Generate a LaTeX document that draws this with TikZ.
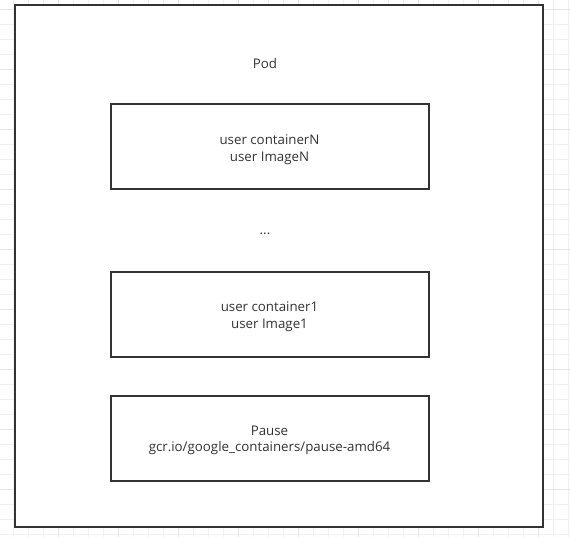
\documentclass[tikz,border=0pt]{standalone}
\usepackage{fontspec}
\setmainfont{Open Sans}
\begin{document}
\begin{tikzpicture}[x=1pt,y=-1pt,
  box/.style={draw=black!80,line width=2pt,fill=white},
  lbl/.style={text=black!80,font=\fontsize{13.3}{16.5}\selectfont,align=center,inner sep=0pt}]
\useasboundingbox (0,0) rectangle (570,537);
% grid
\foreach \i in {0,...,37} {
  \pgfmathsetmacro{\gx}{13+15*\i}
  \draw[color=black!6,line width=0.8pt] (\gx,0) -- (\gx,537);
}
\foreach \j in {0,...,35} {
  \pgfmathsetmacro{\gy}{9+15*\j}
  \draw[color=black!6,line width=0.8pt] (0,\gy) -- (570,\gy);
}
\foreach \i in {0,...,9} {
  \pgfmathsetmacro{\gx}{58+60*\i}
  \draw[color=black!10,line width=0.8pt] (\gx,0) -- (\gx,537);
}
\foreach \j in {0,...,8} {
  \pgfmathsetmacro{\gy}{9+60*\j}
  \draw[color=black!10,line width=0.8pt] (0,\gy) -- (570,\gy);
}
% pod
\draw[box] (15,5) rectangle (542.5,526.5);
\node[lbl] (pod) at (265,64) {Pod};
\draw[box] (110.5,104.5) rectangle (428.5,189.5);
\node[lbl] (cN) at (269.5,149.5) {user containerN\\user ImageN};
\node[lbl] (dots) at (265,234) {...};
\draw[box] (110.5,272) rectangle (428.5,357);
\node[lbl] (c1) at (269.5,316.5) {user container1\\user Image1};
\draw[box] (110.5,396) rectangle (428.5,481);
\node[lbl] (pause) at (269.5,440.5) {Pause\\gcr.io/google\_containers/pause-amd64};
\end{tikzpicture}
\end{document}
